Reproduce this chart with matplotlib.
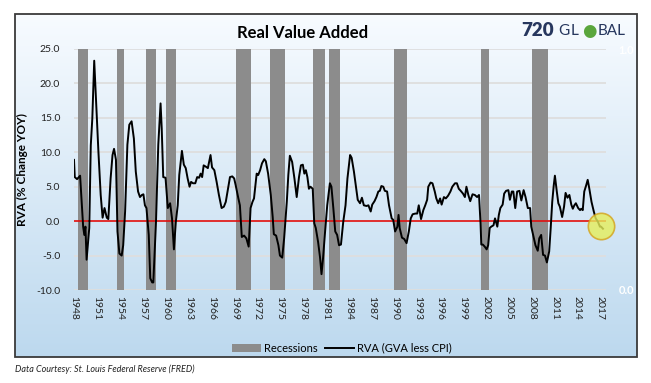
import matplotlib.pyplot as plt
import numpy as np
from matplotlib.patches import Patch, Rectangle
from matplotlib.lines import Line2D

# Datos (anio decimal, % cambio interanual)
anios = [1948.0, 1948.1, 1948.4, 1948.8, 1949.0, 1949.2, 1949.35, 1949.5, 1949.65, 1950.0,
         1950.2, 1950.4, 1950.65, 1950.9, 1951.2, 1951.5, 1951.75, 1952.0, 1952.3, 1952.5,
         1952.8, 1953.05, 1953.25, 1953.5, 1953.7, 1953.95, 1954.25, 1954.45, 1954.7, 1955.0,
         1955.25, 1955.55, 1955.85, 1956.1, 1956.4, 1956.65, 1956.9, 1957.1, 1957.3, 1957.5,
         1957.8, 1958.0, 1958.25, 1958.4, 1958.75, 1959.05, 1959.35, 1959.5, 1959.7, 1960.0,
         1960.3, 1960.6, 1960.85, 1961.1, 1961.35, 1961.6, 1961.8, 1962.15, 1962.4, 1962.65,
         1962.9, 1963.15, 1963.35, 1963.6, 1963.9, 1964.15, 1964.4, 1964.6, 1964.8, 1965.0,
         1965.3, 1965.55, 1965.9, 1966.1, 1966.4, 1966.7, 1967.0, 1967.35, 1967.65, 1967.9,
         1968.2, 1968.45, 1968.75, 1969.0, 1969.2, 1969.55, 1969.75, 1970.0, 1970.3, 1970.6,
         1970.9, 1971.15, 1971.4, 1971.6, 1971.95, 1972.15, 1972.4, 1972.65, 1972.95, 1973.15,
         1973.45, 1973.8, 1974.05, 1974.2, 1974.5, 1974.8, 1975.0, 1975.3, 1975.55, 1975.9,
         1976.1, 1976.3, 1976.6, 1976.9, 1977.2, 1977.5, 1977.75, 1978.0, 1978.2, 1978.4,
         1978.6, 1978.8, 1979.0, 1979.3, 1979.5, 1979.7, 1980.0, 1980.25, 1980.45, 1980.65,
         1980.9, 1981.2, 1981.55, 1981.75, 1982.0, 1982.25, 1982.5, 1982.75, 1983.0, 1983.3,
         1983.6, 1983.85, 1984.2, 1984.4, 1984.7, 1984.95, 1985.2, 1985.5, 1985.75, 1986.0,
         1986.35, 1986.6, 1986.9, 1987.1, 1987.4, 1987.65, 1987.9, 1988.1, 1988.3, 1988.55,
         1988.75, 1989.05, 1989.3, 1989.65, 1989.85, 1990.1, 1990.4, 1990.55, 1990.7, 1991.0,
         1991.3, 1991.6, 1991.9, 1992.15, 1992.4, 1992.75, 1993.0, 1993.2, 1993.5, 1993.8,
         1994.05, 1994.3, 1994.45, 1994.75, 1995.0, 1995.3, 1995.5, 1995.75, 1996.0, 1996.2,
         1996.5, 1996.75, 1997.05, 1997.35, 1997.6, 1997.95, 1998.2, 1998.45, 1998.7, 1999.0,
         1999.25, 1999.45, 1999.7, 1999.95, 2000.25, 2000.55, 2000.85, 2001.1, 2001.3, 2001.4,
         2001.6, 2001.85, 2002.1, 2002.3, 2002.5, 2002.7, 2003.0, 2003.2, 2003.5, 2003.7,
         2003.9, 2004.2, 2004.4, 2004.65, 2004.95, 2005.15, 2005.4, 2005.6, 2005.85, 2006.1,
         2006.4, 2006.65, 2006.95, 2007.2, 2007.5, 2007.8, 2007.95, 2008.2, 2008.5, 2008.8,
         2009.0, 2009.25, 2009.5, 2009.75, 2010.0, 2010.3, 2010.5, 2010.7, 2010.9, 2011.05,
         2011.3, 2011.5, 2011.7, 2012.0, 2012.25, 2012.45, 2012.7, 2012.95, 2013.2, 2013.4,
         2013.6, 2013.8, 2014.1, 2014.35, 2014.5, 2014.7, 2014.9, 2015.15, 2015.35, 2015.55,
         2015.85, 2016.15, 2016.4, 2016.7, 2016.95, 2017.1, 2017.35]

rva = [8.9, 6.4, 6.1, 6.6, 2.8, -0.8, -2.0, -0.8, -5.6, -1.0,
       11.0, 14.9, 23.3, 17.3, 10.1, 3.8, 0.5, 1.9, 0.5, 0.3,
       6.2, 9.6, 10.5, 8.9, -1.5, -4.7, -5.0, -3.5, 1.4, 11.1,
       14.0, 14.5, 12.0, 7.2, 4.3, 3.5, 3.8, 3.9, 2.3, 1.9,
       -2.0, -8.3, -8.9, -8.9, -0.1, 11.1, 17.1, 13.5, 6.4, 6.3,
       1.9, 2.6, 0.4, -4.1, -0.1, 2.3, 6.7, 10.2, 8.2, 7.7,
       6.2, 5.0, 5.7, 5.5, 5.5, 6.4, 6.3, 6.9, 6.4, 8.1,
       7.9, 7.7, 9.6, 7.8, 7.4, 5.7, 3.8, 1.9, 2.1, 2.8,
       4.8, 6.4, 6.5, 6.2, 5.2, 3.3, 2.3, -2.3, -2.1, -2.5,
       -3.7, 1.9, 2.8, 3.3, 6.9, 6.7, 7.4, 8.4, 9.0, 8.7,
       6.9, 3.8, 0.6, -1.9, -2.1, -3.5, -5.0, -5.3, -2.5, 2.8,
       6.7, 9.5, 8.6, 6.2, 3.5, 6.4, 8.1, 8.2, 6.9, 7.4,
       6.4, 4.7, 5.0, 4.7, -0.3, -1.0, -3.0, -5.2, -7.7, -5.4,
       -1.8, 2.3, 5.5, 5.0, 1.9, -1.5, -2.0, -3.5, -3.4, -0.1,
       2.3, 6.2, 9.6, 9.2, 7.2, 5.2, 3.1, 2.6, 3.4, 2.3,
       2.2, 2.3, 1.4, 2.4, 2.9, 3.5, 4.3, 4.4, 5.1, 5.0,
       4.4, 4.3, 2.3, 0.4, 0.2, -1.5, -0.8, 0.9, -1.0, -2.4,
       -2.6, -3.2, -1.5, 0.4, 1.0, 1.1, 1.1, 2.3, 0.3, 1.6,
       2.3, 3.1, 5.0, 5.6, 5.5, 4.3, 3.3, 2.6, 3.3, 2.4,
       3.5, 3.3, 3.7, 4.3, 5.0, 5.5, 5.5, 4.7, 4.4, 4.0,
       3.5, 5.0, 3.8, 2.9, 3.9, 3.8, 3.5, 3.8, -0.3, -3.4,
       -3.4, -3.7, -4.1, -3.5, -1.0, -0.8, -0.6, 0.4, -0.8, 0.9,
       1.9, 2.4, 4.0, 4.4, 4.5, 3.1, 4.3, 4.3, 1.9, 4.3,
       4.4, 3.0, 4.5, 3.5, 1.9, 1.9, -0.8, -2.0, -3.5, -4.3,
       -2.5, -2.0, -4.9, -5.0, -6.0, -4.4, -1.0, 2.8, 5.2, 6.6,
       4.3, 2.6, 2.1, 0.6, 2.1, 4.1, 3.4, 3.8, 2.4, 1.8,
       2.3, 2.6, 1.9, 1.6, 1.8, 1.6, 4.3, 5.2, 6.0, 4.8,
       2.8, 1.4, 0.4, -0.1, -0.8, -0.8, -1.1]

# Recesiones (inicio, fin)
recesiones = [(1948.5, 1949.8), (1953.6, 1954.6), (1957.4, 1958.7), (1960.1, 1961.4),
              (1969.3, 1971.2), (1973.7, 1975.6), (1979.4, 1980.9), (1981.4, 1982.9),
              (1990.0, 1991.7), (2001.3, 2002.4), (2008.1, 2010.2)]

anios_eje = list(range(1948, 2018, 3))
ticks_y = [25, 20, 15, 10, 5, 0, -5, -10]
marca = (2017.1, -0.7)

plt.rcParams['font.family'] = ['Lato', 'DejaVu Sans']

W, H = 651, 383
fig = plt.figure(figsize=(W / 100, H / 100), dpi=100)

# Fondo degradado del recuadro
bx0, by0, bx1, by1 = 15, 14, 637, 357
fondo = fig.add_axes([bx0 / W, 1 - by1 / H, (bx1 - bx0) / W, (by1 - by0) / H], zorder=0)
top = np.array([0.97, 0.985, 1.0])
bot = np.array([0.74, 0.85, 0.935])
t = np.linspace(0, 1, 256)[:, None]
grad = (top * (1 - t) + bot * t)[:, None, :]
fondo.imshow(grad, aspect='auto', extent=[0, 1, 0, 1], origin='upper')
fondo.set_xlim(0, 1)
fondo.set_ylim(0, 1)
fondo.axis('off')
fondo.add_patch(Rectangle((0, 0), 1, 1, fill=False, ec='#3a3a3a', lw=1.3,
                          transform=fondo.transAxes, clip_on=False))

# Ejes principales
ax = fig.add_axes([74 / W, 1 - 290 / H, (606 - 74) / W, (290 - 49) / H], zorder=1)
ax.set_facecolor('none')
for y in ticks_y:
    ax.axhline(y, color='#dedede', lw=1.3, zorder=1)
for a, b in recesiones:
    ax.axvspan(a, b, color='#8c8c8c', lw=0, zorder=2)
ax.axhline(0, color='#e01010', lw=1.2, zorder=3)
ax.plot(anios, rva, color='black', lw=1.4, zorder=4)
ax.plot([marca[0]], [marca[1]], 'o', ms=19, mfc='#e6ee5a', mec='#d4a21a',
        mew=1.2, alpha=0.8, zorder=5, clip_on=False)

ax.set_xlim(1948, 2017.75)
ax.set_ylim(-10, 25)
ax.set_yticks(ticks_y)
ax.set_yticklabels([f'{v:.1f}' for v in ticks_y], fontsize=7.5, color='#222222')
ax.set_xticks(anios_eje)
ax.set_xticklabels([str(a) for a in anios_eje], rotation=270, fontsize=7.5,
                   color='#222222', va='top', ha='center')
ax.tick_params(axis='y', length=0, pad=10)
ax.tick_params(axis='x', length=0, pad=4)
for s in ax.spines.values():
    s.set_visible(False)
ax.set_ylabel('RVA (% Change YOY)', fontsize=8.5, fontweight='bold', labelpad=6)

# Eje derecho (etiquetas blancas)
ax2 = ax.twinx()
ax2.set_ylim(0, 1)
ax2.set_yticks([0, 1])
ax2.set_yticklabels(['0.0', '1.0'], color='white', fontsize=8, fontweight='bold')
ax2.tick_params(length=0, pad=9)
for s in ax2.spines.values():
    s.set_visible(False)

# Titulo y logo
fig.text(303 / W, 1 - 33 / H, 'Real Value Added', ha='center', va='center',
         fontsize=12, fontweight='bold', color='black', zorder=3)
logo = '#27375e'
fig.text(521 / W, 1 - 31 / H, '720', ha='left', va='center', fontsize=13.5,
         fontweight='heavy', color=logo, zorder=3)
fig.text(558 / W, 1 - 31 / H, 'G', ha='left', va='center', fontsize=11,
         color=logo, zorder=3)
fig.text(571 / W, 1 - 31 / H, 'L', ha='left', va='center', fontsize=11,
         color=logo, zorder=3)
fig.text(589 / W, 1 - 31 / H, '●', ha='center', va='center', fontsize=12,
         color='#5aa63c', family='DejaVu Sans', zorder=3)
fig.text(598 / W, 1 - 31 / H, 'BAL', ha='left', va='center', fontsize=11,
         color=logo, zorder=3)

# Leyenda
handles = [Patch(facecolor='#8c8c8c', edgecolor='none'),
           Line2D([0], [0], color='black', lw=1.4)]
fig.legend(handles, ['Recessions', 'RVA (GVA less CPI)'], loc='center',
           bbox_to_anchor=(342 / W, 1 - 348 / H), ncol=2, frameon=False,
           fontsize=8, handlelength=2.6, handletextpad=0.3, columnspacing=0.6)

fig.text(15 / W, 1 - 369 / H, 'Data Courtesy: St. Louis Federal Reserve (FRED)',
         ha='left', va='center', fontsize=6.5, style='italic', color='#222222')

fig.savefig('out.png', dpi=100)
